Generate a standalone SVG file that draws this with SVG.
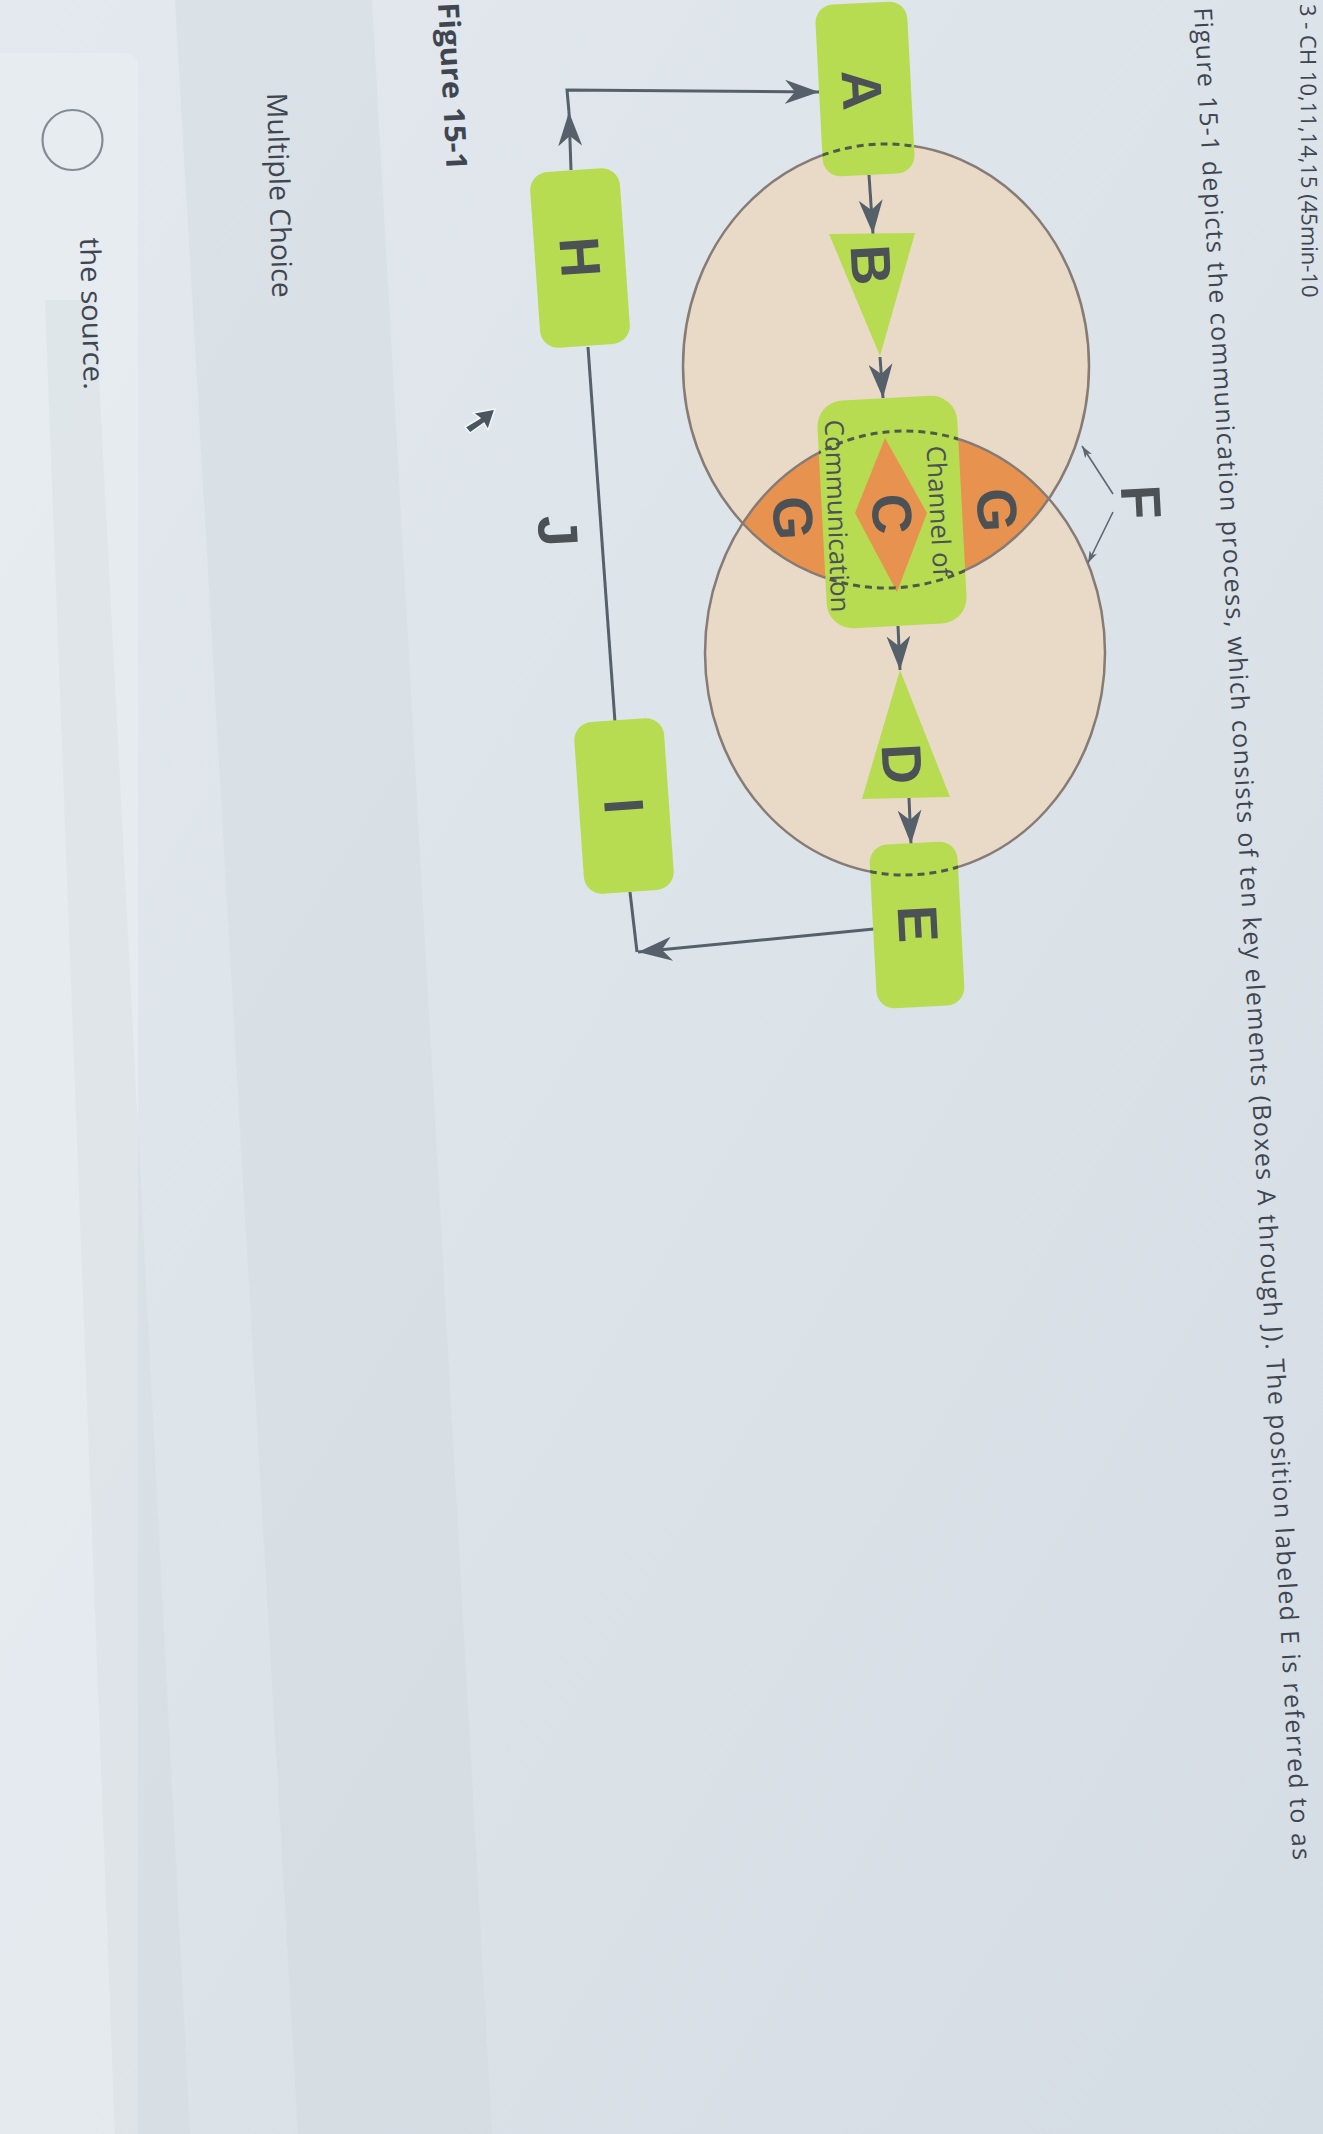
<svg xmlns="http://www.w3.org/2000/svg" width="1323" height="2134" viewBox="0 0 1323 2134">
<style>
.box{fill:#b7dc52}
.lbl{font-family:"Liberation Sans",Arial,sans-serif;font-weight:700;font-size:56px;fill:#4b5155;text-anchor:middle;dominant-baseline:central}
.sm{font-family:"Open Sans","Liberation Sans",sans-serif;font-size:26px;fill:#4b5155;text-anchor:middle;dominant-baseline:central}
.ui{font-family:"Open Sans","Liberation Sans",sans-serif;fill:#3f4652}
.conn{stroke:#55606a;stroke-width:3;fill:none}
.thin{stroke:#5d6872;stroke-width:1.6;fill:none}
.ell{fill:none;stroke:#867b75;stroke-width:2.5}
.dash{fill:none;stroke:#4f5a48;stroke-width:3;stroke-dasharray:7 5}
</style>
<defs>
<linearGradient id="bg" x1="0" y1="0" x2="1" y2="1">
<stop offset="0" stop-color="#e3e9ee"/>
<stop offset="1" stop-color="#d5dde4"/>
</linearGradient>
<marker id="ah" viewBox="0 0 34 24" refX="34" refY="12" markerWidth="34" markerHeight="24" markerUnits="userSpaceOnUse" orient="auto">
<path d="M0,0 L34,12 L0,24 L10,12 Z" fill="#55606a"/>
</marker>
<marker id="ahs" viewBox="0 0 12 8" refX="12" refY="4" markerWidth="12" markerHeight="8" markerUnits="userSpaceOnUse" orient="auto">
<path d="M0,0 L12,4 L0,8 L3,4 Z" fill="#5d6872"/>
</marker>
<clipPath id="clipTop"><ellipse cx="886" cy="366" rx="203" ry="222"/></clipPath>
<clipPath id="clipBoxes">
<rect x="819" y="3" width="92" height="172" rx="18" transform="rotate(-3 865 89)"/>
<rect x="822" y="398" width="140" height="228" rx="26" transform="rotate(-3 892 512)"/>
<rect x="873" y="843" width="88" height="164" rx="18" transform="rotate(-3 917 925)"/>
</clipPath>
</defs>

<g id="background">
<rect width="1323" height="2134" fill="url(#bg)"/>
<polygon points="175,0 372,0 492,2134 298,2134" fill="#cfd6dc" opacity="0.35"/>
<rect x="-20" y="53" width="158" height="2120" rx="14" fill="#e9eef2" opacity="0.6"/>
<polygon points="45,300 95,300 190,2134 115,2134" fill="#cfd6dc" opacity="0.3"/>
</g>

<g id="header-text">
<text class="ui" font-size="22" transform="translate(1300,4) rotate(89.6)">3 - CH 10,11,14,15 (45min-10</text>
<text class="ui" font-size="25" transform="translate(1194,8) rotate(86.94)" textLength="1855" lengthAdjust="spacing">Figure 15-1 depicts the communication process, which consists of ten key elements (Boxes A through J). The position labeled E is referred to as</text>
<text class="ui" font-size="29" font-weight="700" transform="translate(438,3) rotate(87)" textLength="168" lengthAdjust="spacingAndGlyphs">Figure 15-1</text>
<text class="ui" font-size="28" transform="translate(267,93) rotate(88.5)" textLength="205" lengthAdjust="spacingAndGlyphs">Multiple Choice</text>
<circle cx="72.5" cy="140" r="30" fill="none" stroke="#858b96" stroke-width="2.2"/>
<text class="ui" font-size="28" transform="translate(80,238) rotate(88.5)" textLength="152" lengthAdjust="spacingAndGlyphs">the source.</text>
</g>

<g id="cursor">
<path d="M495,409 L473,413 L480,418 L465,427 L470,433 L484,423 L488,430 Z" fill="#4a5560" stroke="#f4f6f8" stroke-width="1.5" stroke-linejoin="round"/>
</g>

<g id="circles">
<ellipse cx="886" cy="366" rx="203" ry="222" fill="#e9dac8"/>
<ellipse cx="905" cy="653" rx="200" ry="222" fill="#e9dac8"/>
<ellipse id="lens-G" cx="905" cy="653" rx="200" ry="222" fill="#e8924f" clip-path="url(#clipTop)"/>
<ellipse class="ell" cx="886" cy="366" rx="203" ry="222"/>
<ellipse class="ell" cx="905" cy="653" rx="200" ry="222"/>
</g>

<g id="connectors">
<path class="conn" d="M571,170 L569,112" marker-end="url(#ah)"/>
<path class="conn" d="M569,112 L567,90 L819,92" marker-end="url(#ah)"/>
<path class="conn" d="M874,929 L638,952" marker-end="url(#ah)"/>
<path class="conn" d="M637,952 L630,892"/>
<path class="conn" d="M588,347 L615,722"/>
<path class="conn" d="M869,175 L873,234" marker-end="url(#ah)"/>
<path class="conn" d="M880,357 L883,398" marker-end="url(#ah)"/>
<path class="conn" d="M898,626 L900,670" marker-end="url(#ah)"/>
<path class="conn" d="M909,798 L911,844" marker-end="url(#ah)"/>
<path class="thin" d="M1113,494 L1082,446" marker-end="url(#ahs)"/>
<path class="thin" d="M1113,512 L1088,563" marker-end="url(#ahs)"/>
</g>

<g id="node-A">
<rect class="box" x="819" y="3" width="92" height="172" rx="18" transform="rotate(-3 865 89)"/>
<text class="lbl" transform="translate(862,90) rotate(87)">A</text>
</g>
<g id="node-B">
<polygon class="box" points="829,234 915,233 880,356"/>
<text class="lbl" transform="translate(871,265) rotate(87)">B</text>
</g>
<g id="node-G1">
<text class="lbl" transform="translate(997,510) rotate(87)">G</text>
</g>
<g id="node-G2">
<text class="lbl" transform="translate(793,518) rotate(87)">G</text>
</g>
<g id="node-C">
<rect class="box" x="822" y="398" width="140" height="228" rx="26" transform="rotate(-3 892 512)"/>
<polygon points="885,438 927,513 897,592 855,513" fill="#e8924f"/>
</g>
<g id="node-D">
<polygon class="box" points="900,670 950,797 862,799"/>
<text class="lbl" font-size="50" transform="translate(902,764) rotate(87)">D</text>
</g>
<g id="node-E">
<rect class="box" x="873" y="843" width="88" height="164" rx="18" transform="rotate(-3 917 925)"/>
<text class="lbl" transform="translate(918,924) rotate(87)">E</text>
</g>
<g id="node-H">
<rect class="box" x="535" y="170" width="90" height="176" rx="18" transform="rotate(-4 580 258)"/>
<text class="lbl" transform="translate(580,257) rotate(86)">H</text>
</g>
<g id="node-I">
<rect class="box" x="579" y="720" width="90" height="172" rx="18" transform="rotate(-4 624 806)"/>
<text class="lbl" transform="translate(624,806) rotate(86)">I</text>
</g>

<g id="dashed-edges" clip-path="url(#clipBoxes)">
<ellipse class="dash" cx="886" cy="366" rx="203" ry="222"/>
<ellipse class="dash" cx="905" cy="653" rx="200" ry="222"/>
</g>

<g id="node-C-labels">
<text class="sm" transform="translate(940,511) rotate(87)">Channel of</text>
<text class="sm" transform="translate(838,516) rotate(88)">Communication</text>
<text class="lbl" transform="translate(892,514) rotate(87)">C</text>
</g>
<g id="node-J">
<text class="lbl" transform="translate(558,531) rotate(87)">J</text>
</g>
<g id="node-F">
<text class="lbl" transform="translate(1141,502) rotate(87)">F</text>
</g>
</svg>
